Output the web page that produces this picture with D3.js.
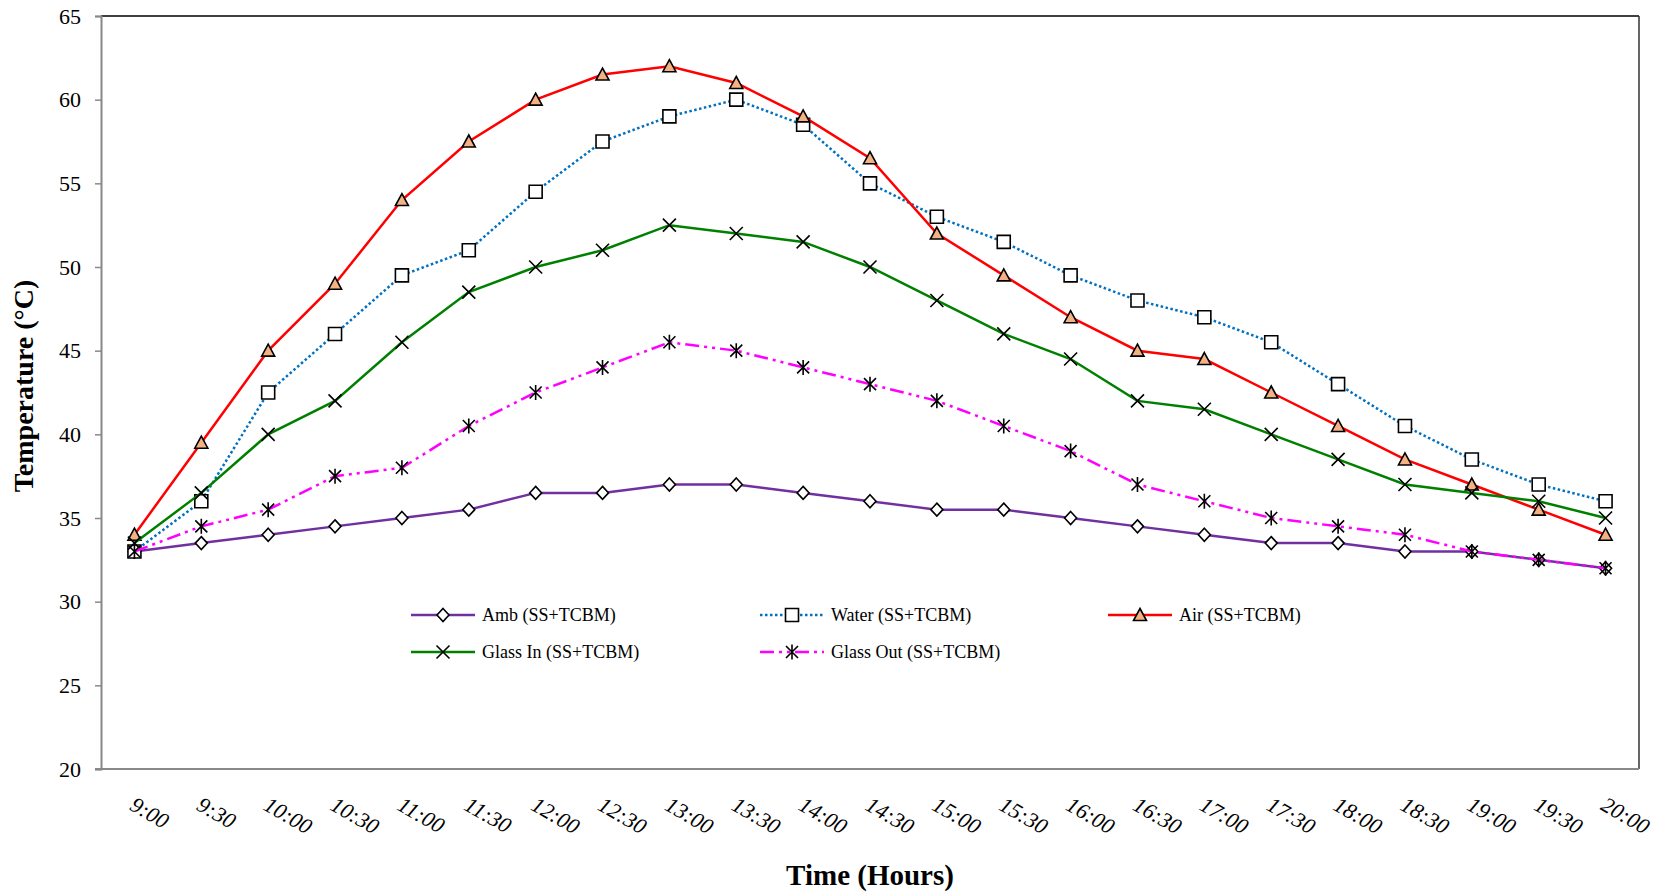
<!DOCTYPE html>
<html>
<head>
<meta charset="utf-8">
<script src="https://cdn.jsdelivr.net/npm/d3@7"></script>
<style>
  html, body { margin: 0; padding: 0; background: #fff; }
  svg { display: block; font-family: "Liberation Serif", "Times New Roman", serif; }
</style>
</head>
<body>
<svg id="chart" width="1669" height="895"></svg>
<script>
// Time of day (half-hour readings)
const times = ["9:00","9:30","10:00","10:30","11:00","11:30","12:00","12:30","13:00","13:30",
  "14:00","14:30","15:00","15:30","16:00","16:30","17:00","17:30","18:00","18:30","19:00","19:30","20:00"];

// Temperatures (°C)
const amb      = [33,33.5,34,34.5,35,35.5,36.5,36.5,37,37,36.5,36,35.5,35.5,35,34.5,34,33.5,33.5,33,33,32.5,32];
const water    = [33,36,42.5,46,49.5,51,54.5,57.5,59,60,58.5,55,53,51.5,49.5,48,47,45.5,43,40.5,38.5,37,36];
const air      = [34,39.5,45,49,54,57.5,60,61.5,62,61,59,56.5,52,49.5,47,45,44.5,42.5,40.5,38.5,37,35.5,34];
const glassIn  = [33.5,36.5,40,42,45.5,48.5,50,51,52.5,52,51.5,50,48,46,44.5,42,41.5,40,38.5,37,36.5,36,35];
const glassOut = [33,34.5,35.5,37.5,38,40.5,42.5,44,45.5,45,44,43,42,40.5,39,37,36,35,34.5,34,33,32.5,32];

const yTicks = [20,25,30,35,40,45,50,55,60,65];

const series = [
  { name: "Amb (SS+TCBM)",       values: amb,      color: "#7030A0", dash: null,              marker: "diamond" },
  { name: "Water (SS+TCBM)",     values: water,    color: "#0070C0", dash: "2.5,2.5",         marker: "square" },
  { name: "Air (SS+TCBM)",       values: air,      color: "#FF0000", dash: null,              marker: "triangle" },
  { name: "Glass In (SS+TCBM)",  values: glassIn,  color: "#008000", dash: null,              marker: "cross" },
  { name: "Glass Out (SS+TCBM)", values: glassOut, color: "#FF00FF", dash: "14,5,3,5,3,5",    marker: "asterisk" }
];

const svg = d3.select("#chart");
const plot = { left: 101, right: 1639, top: 16, bottom: 769 };

const x = d3.scalePoint().domain(times).range([plot.left, plot.right]).padding(0.5);
const y = d3.scaleLinear().domain([20, 65]).range([plot.bottom, plot.top]);

// Plot frame: top and right edges
svg.append("line").attr("x1", plot.left).attr("x2", plot.right).attr("y1", plot.top).attr("y2", plot.top)
  .attr("stroke", "#000").attr("stroke-width", 1.5);
svg.append("line").attr("x1", plot.right).attr("x2", plot.right).attr("y1", plot.top).attr("y2", plot.bottom)
  .attr("stroke", "#333").attr("stroke-width", 1.5);

// Y axis
const yAxis = svg.append("g").attr("transform", `translate(${plot.left},0)`)
  .call(d3.axisLeft(y).tickValues(yTicks).tickSize(6).tickPadding(14).tickFormat(d3.format("d")));
yAxis.select(".domain").attr("stroke", "#888").attr("stroke-width", 2);
yAxis.selectAll(".tick line").attr("stroke", "#888").attr("stroke-width", 1.5);
yAxis.selectAll(".tick text").attr("font-size", 22).attr("fill", "#000")
  .attr("font-family", "Liberation Serif, serif");

// X axis
const xAxis = svg.append("g").attr("transform", `translate(0,${plot.bottom})`)
  .call(d3.axisBottom(x).tickSize(0).tickSizeOuter(0).tickFormat(""));
xAxis.select(".domain").attr("stroke", "#888").attr("stroke-width", 2)
  .attr("d", `M${plot.left - 6},0H${plot.right}`);

svg.append("g").selectAll("text").data(times).join("text")
  .attr("transform", d => `translate(${x(d) - 6},${plot.bottom + 40}) rotate(30)`)
  .attr("font-size", 22).attr("font-style", "italic").attr("fill", "#000")
  .text(d => d);

// Axis titles
svg.append("text").attr("x", 870).attr("y", 885).attr("text-anchor", "middle")
  .attr("font-size", 29).attr("font-weight", "bold").text("Time (Hours)");
svg.append("text").attr("transform", "translate(33,386) rotate(-90)").attr("text-anchor", "middle")
  .attr("font-size", 28).attr("font-weight", "bold").text("Temperature (°C)");

// Marker shapes
function markerPath(type) {
  switch (type) {
    case "diamond": return "M0,-6.5L6,0L0,6.5L-6,0Z";
    case "square": return "M-6.5,-6.5H6.5V6.5H-6.5Z";
    case "triangle": return "M0,-6.5L6.5,5.5H-6.5Z";
    case "cross": return "M-6.5,-6.5L6.5,6.5M6.5,-6.5L-6.5,6.5";
    case "asterisk": return "M-6,-6L6,6M6,-6L-6,6M0,-7.5V7.5";
  }
}
function markerFill(type) {
  if (type === "diamond" || type === "square") return "#fff";
  if (type === "triangle") return "#F4B183";
  return "none";
}

const line = d3.line().x((d, i) => x(times[i])).y(d => y(d));

series.forEach(s => {
  const g = svg.append("g");
  g.append("path").datum(s.values).attr("d", line)
    .attr("fill", "none").attr("stroke", s.color).attr("stroke-width", 2.5)
    .attr("stroke-dasharray", s.dash);
  g.selectAll("path.m").data(s.values).join("path").attr("class", "m")
    .attr("transform", (d, i) => `translate(${x(times[i])},${y(d)})`)
    .attr("d", markerPath(s.marker))
    .attr("fill", markerFill(s.marker)).attr("stroke", "#000").attr("stroke-width", 1.6);
});

// Legend
const legendPos = [
  { x: 411, y: 615 }, { x: 760, y: 615 }, { x: 1108, y: 615 },
  { x: 411, y: 652 }, { x: 760, y: 652 }
];
series.forEach((s, i) => {
  const p = legendPos[i];
  const g = svg.append("g").attr("transform", `translate(${p.x},${p.y})`);
  g.append("line").attr("x1", 0).attr("x2", 64).attr("y1", 0).attr("y2", 0)
    .attr("stroke", s.color).attr("stroke-width", 2.5).attr("stroke-dasharray", s.dash);
  g.append("path").attr("transform", "translate(32,0)").attr("d", markerPath(s.marker))
    .attr("fill", markerFill(s.marker)).attr("stroke", "#000").attr("stroke-width", 1.6);
  g.append("text").attr("x", 71).attr("y", 6).attr("font-size", 18).attr("fill", "#000").text(s.name);
});
</script>
</body>
</html>
